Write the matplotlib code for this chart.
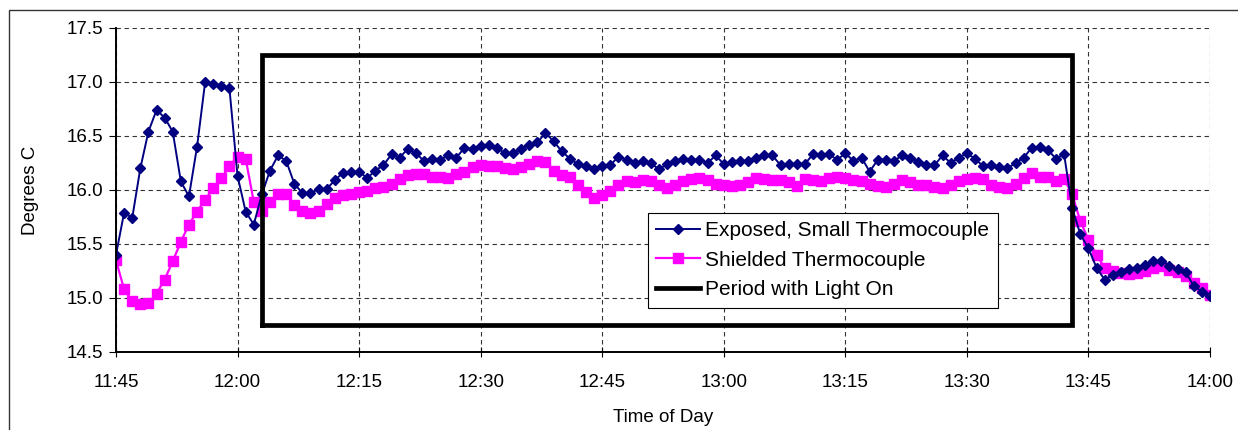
import matplotlib
matplotlib.use("Agg")
import matplotlib.pyplot as plt
from matplotlib.patches import Rectangle
from matplotlib.ticker import FuncFormatter, MultipleLocator
import numpy as np

plt.rcParams["font.family"] = ["Liberation Sans", "DejaVu Sans"]

# minutes after 11:45, one reading per minute up to 14:00
start_min = 11 * 60 + 45
minutes = np.arange(0, 136)

exposed = [
    15.40, 15.79, 15.74, 16.20, 16.54, 16.74, 16.67, 16.54, 16.08, 15.94, 16.40, 17.00, 16.98, 16.96, 16.94,
    16.13, 15.80, 15.68, 15.96, 16.18, 16.32, 16.27, 16.06, 15.97, 15.97, 16.01, 16.01, 16.09, 16.16, 16.17,
    16.17, 16.11, 16.18, 16.23, 16.33, 16.30, 16.38, 16.34, 16.27, 16.29, 16.28, 16.32, 16.30, 16.39, 16.38,
    16.41, 16.42, 16.39, 16.34, 16.34, 16.38, 16.42, 16.44, 16.53, 16.45, 16.36, 16.29, 16.24, 16.22, 16.19,
    16.22, 16.23, 16.31, 16.28, 16.25, 16.27, 16.25, 16.19, 16.24, 16.27, 16.29, 16.28, 16.28, 16.25, 16.32,
    16.24, 16.26, 16.27, 16.27, 16.30, 16.32, 16.32, 16.23, 16.24, 16.24, 16.24, 16.33, 16.32, 16.33, 16.28,
    16.34, 16.27, 16.30, 16.17, 16.28, 16.28, 16.27, 16.32, 16.30, 16.26, 16.23, 16.23, 16.32, 16.25, 16.30,
    16.34, 16.29, 16.22, 16.23, 16.21, 16.20, 16.25, 16.30, 16.39, 16.40, 16.37, 16.29, 16.33, 15.83, 15.59,
    15.46, 15.28, 15.17, 15.21, 15.24, 15.27, 15.28, 15.31, 15.34, 15.34, 15.30, 15.27, 15.24, 15.11, 15.06, 15.02,
]

shielded = [
    15.35, 15.08, 14.97, 14.94, 14.95, 15.04, 15.17, 15.34, 15.52, 15.68, 15.80, 15.91, 16.02, 16.11, 16.22,
    16.31, 16.29, 15.89, 15.81, 15.89, 15.96, 15.96, 15.86, 15.81, 15.79, 15.81, 15.87, 15.93, 15.95, 15.96,
    15.98, 15.99, 16.02, 16.03, 16.06, 16.10, 16.14, 16.15, 16.15, 16.12, 16.12, 16.11, 16.15, 16.17, 16.21,
    16.23, 16.22, 16.22, 16.20, 16.19, 16.21, 16.24, 16.27, 16.26, 16.18, 16.14, 16.12, 16.05, 15.98, 15.93,
    15.95, 15.99, 16.05, 16.08, 16.07, 16.09, 16.08, 16.05, 16.02, 16.05, 16.08, 16.10, 16.11, 16.09, 16.06,
    16.05, 16.04, 16.05, 16.07, 16.11, 16.10, 16.09, 16.09, 16.07, 16.04, 16.10, 16.09, 16.08, 16.11, 16.12,
    16.11, 16.09, 16.08, 16.06, 16.04, 16.03, 16.06, 16.09, 16.07, 16.05, 16.05, 16.03, 16.02, 16.05, 16.08,
    16.10, 16.11, 16.10, 16.05, 16.03, 16.02, 16.06, 16.11, 16.16, 16.12, 16.12, 16.08, 16.10, 15.96, 15.71,
    15.54, 15.40, 15.28, 15.25, 15.23, 15.22, 15.23, 15.25, 15.28, 15.30, 15.26, 15.24, 15.20, 15.14, 15.09, 15.03,
]

# light-on box (12:03 - 13:43)
light_x = [18, 18, 118, 118, 18]
light_y = [14.75, 17.25, 17.25, 14.75, 14.75]


def hhmm(v, pos):
    t = int(round(v)) + start_min
    return f"{t // 60}:{t % 60:02d}"


fig = plt.figure(figsize=(12.38, 4.30), dpi=100)
ax = fig.add_axes([116 / 1238, 1 - 352 / 430, (1210 - 116) / 1238, (352 - 28) / 430])

# outer chart frame
fig.patches.append(Rectangle((9 / 1238, -0.1), 1.2, 1.1 - 10 / 430,
                             transform=fig.transFigure, fill=False,
                             edgecolor="#333333", linewidth=1.0))

ax.plot(minutes, exposed, color="#000080", lw=1.4, marker="D", ms=5,
        label="Exposed, Small Thermocouple", zorder=4)
ax.plot(minutes, shielded, color="#FF00FF", lw=1.6, marker="s", ms=6.8,
        label="Shielded Thermocouple", zorder=3)
ax.plot(light_x, light_y, color="black", lw=3.4, label="Period with Light On",
        zorder=5, solid_joinstyle="miter")

ax.set_xlim(0, 135)
ax.set_ylim(14.5, 17.5)
ax.xaxis.set_major_locator(MultipleLocator(15))
ax.xaxis.set_major_formatter(FuncFormatter(hhmm))
ax.yaxis.set_major_locator(MultipleLocator(0.5))
ax.yaxis.set_major_formatter(FuncFormatter(lambda v, p: f"{v:.1f}"))

ax.grid(True, color="#333333", linestyle=(0, (4, 3.2)), linewidth=0.8)
ax.set_axisbelow(True)
for side in ["top", "right"]:
    ax.spines[side].set_visible(False)
for side in ["left", "bottom"]:
    ax.spines[side].set_linewidth(1.4)
    ax.spines[side].set_zorder(6)

ax.tick_params(axis="x", direction="inout", length=7, width=0.8, labelsize=13.5, pad=12)
ax.tick_params(axis="y", direction="out", length=5, width=0.8, labelsize=13.5, pad=4)

ax.set_xlabel("Time of Day", fontsize=13.5, labelpad=13)
ax.set_ylabel("Degrees C", fontsize=13.5, labelpad=20)

leg = ax.legend(loc="upper left", bbox_to_anchor=(648 / 1238, 1 - 213 / 430),
                bbox_transform=fig.transFigure, fontsize=15, frameon=True,
                fancybox=False, framealpha=1, edgecolor="black",
                handlelength=2.1, handletextpad=0.25, labelspacing=0.5,
                borderpad=0.4, borderaxespad=0)
leg.get_frame().set_linewidth(0.8)
leg.set_zorder(10)

fig.savefig("out.png", dpi=100)
